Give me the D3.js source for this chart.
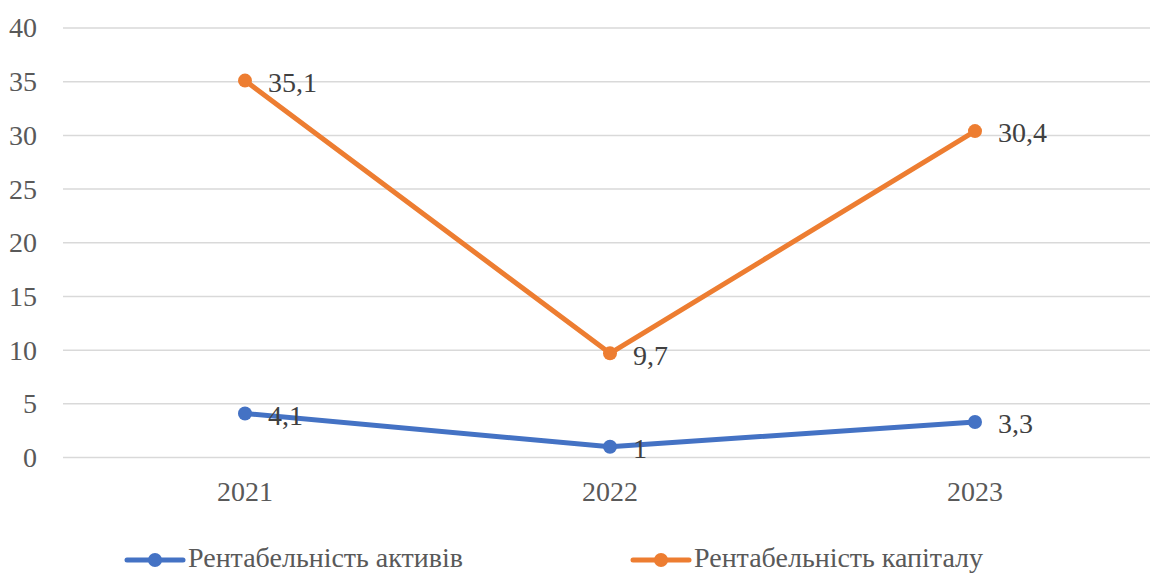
<!DOCTYPE html>
<html><head><meta charset="utf-8">
<script src="https://cdn.jsdelivr.net/npm/d3@7"></script>
<style>body{margin:0;background:#fff}svg{display:block}</style>
</head><body>
<svg id="c" width="1150" height="575"></svg>
<script>
const categories = ["2021", "2022", "2023"];
const assetsReturn = [4.1, 1, 3.3];
const equityReturn = [35.1, 9.7, 30.4];
const yTicks = [0, 5, 10, 15, 20, 25, 30, 35, 40];
const seriesNames = ["Рентабельність активів", "Рентабельність капіталу"];
const seriesColors = ["#4472C4", "#ED7D31"];

// pick first installed serif font
const ctx = document.createElement("canvas").getContext("2d");
const probe = "Рентабельність 2021 mmmwwwlli";
function w(f) { ctx.font = "40px " + f; return ctx.measureText(probe).width; }
const baseM = w("monospace"), baseS = w("sans-serif");
const candidates = ["Liberation Serif", "Tinos", "Times New Roman", "Noto Serif", "DejaVu Serif", "FreeSerif"];
let chosen = "serif";
for (const c of candidates) {
  const a = w(`"${c}", monospace`), b = w(`"${c}", sans-serif`);
  if (a !== baseM || b !== baseS) { chosen = `"${c}"`; break; }
}
const font = chosen + ", serif";

const svg = d3.select("#c");
const x = d3.scaleBand().domain(categories).range([62.5, 1157.5]).padding(0);
const y = d3.scaleLinear().domain([0, 40]).range([457.5, 28]);

svg.append("g").selectAll("line").data(yTicks).join("line")
  .attr("x1", 63).attr("x2", 1157)
  .attr("y1", d => y(d)).attr("y2", d => y(d))
  .attr("stroke", "#d9d9d9").attr("stroke-width", 1.5);

const yAxis = d3.axisLeft(y).tickValues(yTicks).tickSize(0).tickPadding(0).tickFormat(d3.format("d"));
const ya = svg.append("g").attr("transform", "translate(37,0)").call(yAxis);
ya.attr("font-family", font);
ya.select(".domain").remove();
ya.selectAll("text").style("font-family", font).attr("font-size", 28).attr("fill", "#595959").attr("dy", "0.32em");

const xAxis = d3.axisBottom(x).tickSize(0).tickPadding(0);
const xa = svg.append("g").attr("transform", "translate(0,481)").call(xAxis);
xa.attr("font-family", font);
xa.select(".domain").remove();
xa.selectAll("text").style("font-family", font).attr("font-size", 28).attr("fill", "#595959").attr("dy", "0.71em");

const series = [assetsReturn, equityReturn];
const line = d3.line().x((d, i) => x(categories[i]) + x.bandwidth() / 2).y(d => y(d));
const fmt = v => String(v).replace(".", ",");

series.forEach((vals, si) => {
  const g = svg.append("g");
  g.append("path").attr("d", line(vals)).attr("fill", "none")
    .attr("stroke", seriesColors[si]).attr("stroke-width", 5).attr("stroke-linejoin", "round");
  g.selectAll("circle").data(vals).join("circle")
    .attr("cx", (d, i) => x(categories[i]) + x.bandwidth() / 2)
    .attr("cy", d => y(d)).attr("r", 7).attr("fill", seriesColors[si]);
  g.selectAll("text").data(vals).join("text")
    .attr("x", (d, i) => x(categories[i]) + x.bandwidth() / 2 + 23)
    .attr("y", d => y(d)).attr("dy", "0.4em")
    .style("font-family", font).attr("font-size", 28).attr("fill", "#404040")
    .text(d => fmt(d));
});

const legendX = [127, 633];
seriesNames.forEach((name, i) => {
  const g = svg.append("g").attr("transform", `translate(${legendX[i]},560)`);
  g.append("line").attr("x1", 0).attr("x2", 56).attr("y1", 0).attr("y2", 0)
    .attr("stroke", seriesColors[i]).attr("stroke-width", 5).attr("stroke-linecap", "round");
  g.append("circle").attr("cx", 28).attr("cy", 0).attr("r", 7).attr("fill", seriesColors[i]);
  g.append("text").attr("x", 61).attr("y", 7).style("font-family", font).attr("font-size", 28)
    .attr("fill", "#595959").text(name);
});
</script>
</body></html>
